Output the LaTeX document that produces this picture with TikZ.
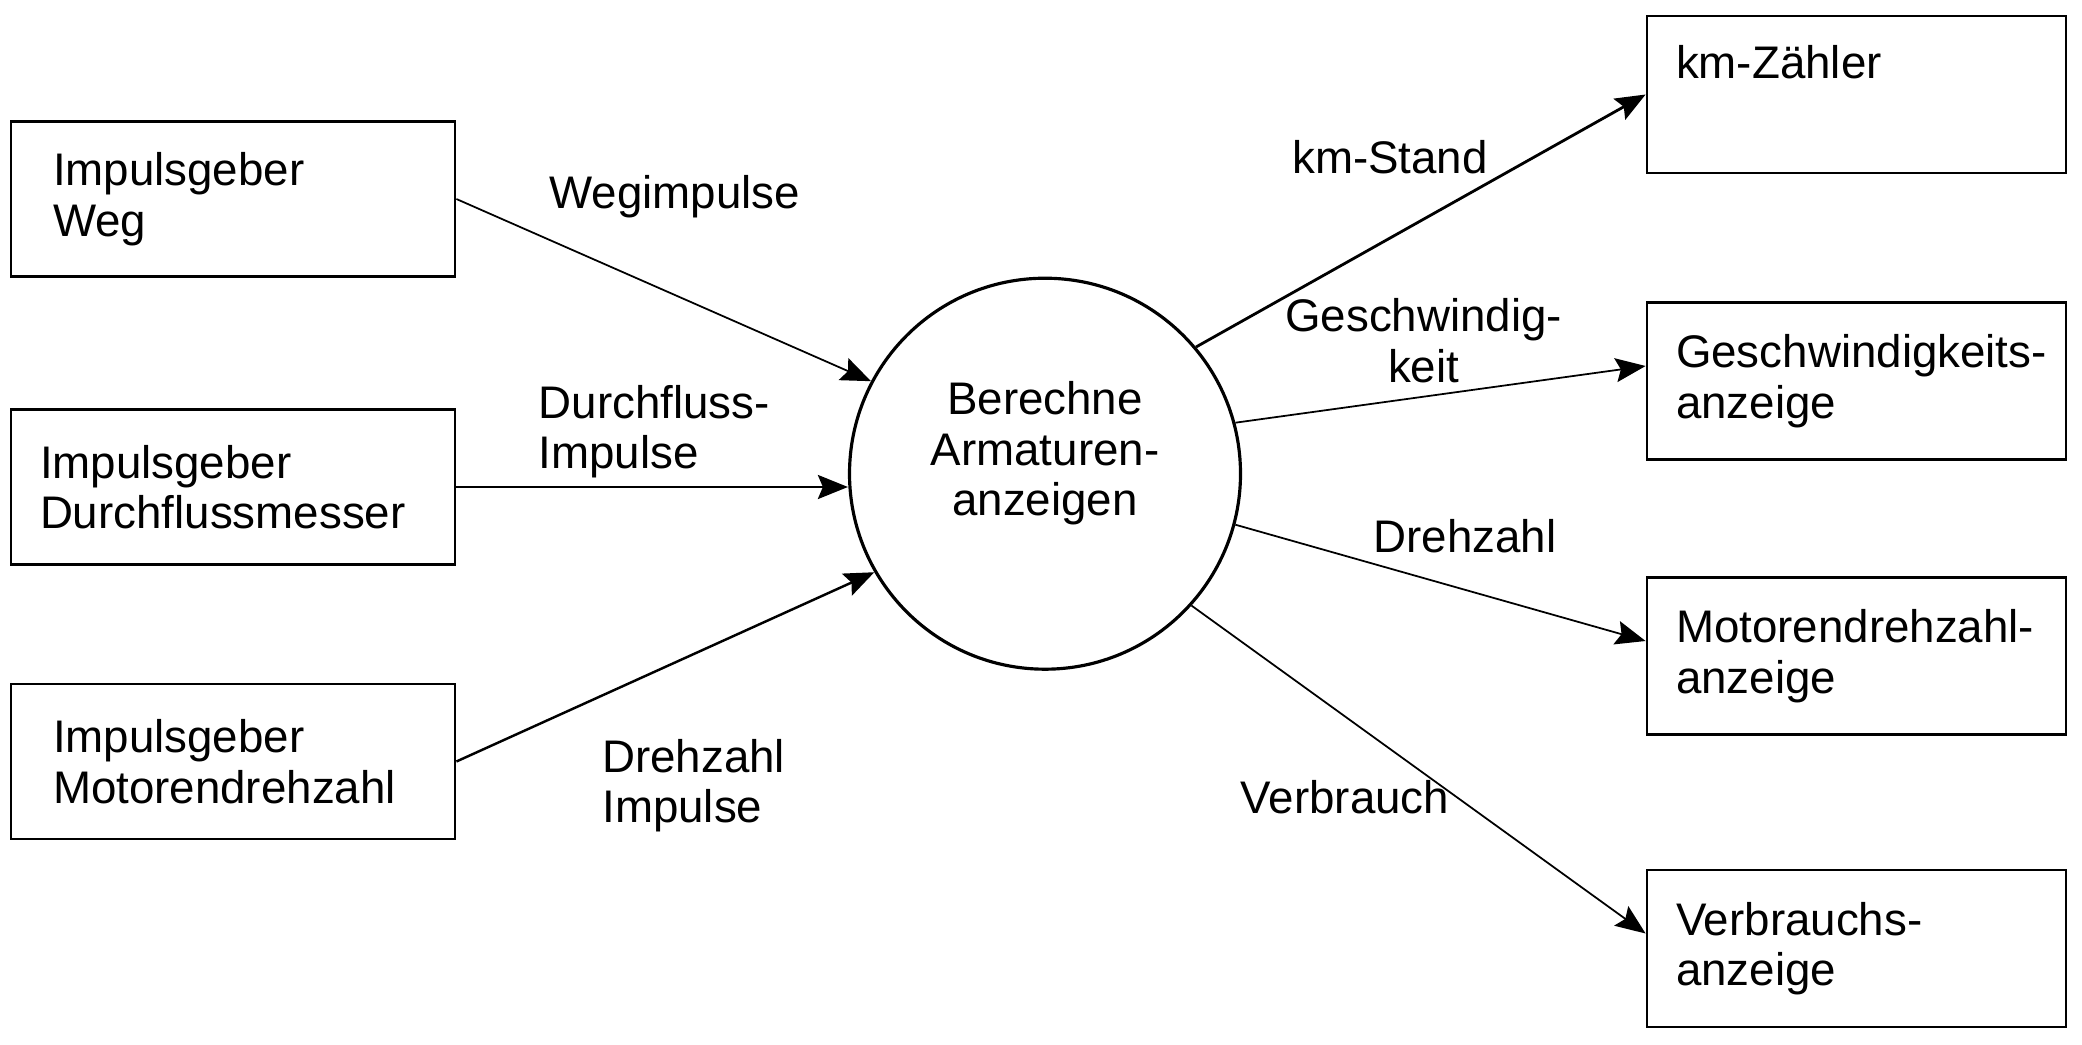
\documentclass[tikz,border=0pt]{standalone}
\usepackage{fontspec}
\setmainfont{Liberation Sans}
\usepackage{tikz}
\usetikzlibrary{arrows.meta,positioning,shapes.geometric,calc}

\tikzset{
  srcbox/.style={draw, line width=0.8pt, rectangle, minimum height=1.55cm, text width=3.6cm, inner xsep=0.42cm, align=left},
  dstbox/.style={draw, line width=0.8pt, rectangle, minimum height=1.57cm, text width=3.61cm, inner xsep=0.29cm, align=left},
  procnode/.style={draw, line width=0.9pt, circle, minimum size=3.91cm, inner sep=0pt, align=center},
  flowlbl/.style={inner sep=0pt},
  flow/.style={-{Stealth[length=3mm, width=2.4mm, inset=0.5mm]}, line width=0.5pt}
}

\begin{document}
\begin{tikzpicture}[every node/.style={font=\fontsize{13}{14.4}\selectfont}]
    \useasboundingbox (0,0) rectangle (20.82,10.44);

    % Quellen links
    \node[srcbox] (weg) at (2.33,8.45) {Impulsgeber\\Weg};
    \node[srcbox, inner xsep=0.29cm, text width=3.86cm] (durch) at (2.33,5.57) {Impulsgeber\\Durchflussmesser};
    \node[srcbox] (motor) at (2.33,2.825) {Impulsgeber\\Motorendrehzahl};

    % Prozess
    \node[procnode] (armatur) at (10.45,5.703) {Berechne\\Armaturen-\\anzeigen\\[-1.6mm]\strut};

    % Anzeigen rechts
    \node[dstbox] (kmz) at (18.565,9.495) {km-Zähler\\\strut};
    \node[dstbox] (gesch) at (18.565,6.63) {\mbox{Geschwindigkeits-}\\anzeige};
    \node[dstbox] (drehz) at (18.565,3.88) {\mbox{Motorendrehzahl-}\\anzeige};
    \node[dstbox] (verbr) at (18.565,0.955) {Verbrauchs-\\anzeige};

    % Datenfluesse
    \node[flowlbl] (lweg) at (6.746,8.475) {Wegimpulse};
    \node[flowlbl, anchor=west, align=left] (ldurch) at (5.38,6.125) {Durchfluss-\\Impulse};
    \node[flowlbl, anchor=west, align=left] (lmotor) at (6.016,2.585) {Drehzahl\\Impulse};
    \node[flowlbl] (lkm) at (13.90,8.873) {km-Stand};
    \node[flowlbl, align=center] (lgesch) at (14.236,7.034) {Geschwindig-\\keit};
    \node[flowlbl] (ldrehz) at (14.648,5.075) {Drehzahl};
    \node[flowlbl] (lverbr) at (13.45,2.47) {Verbrauch};

    \draw[flow] (weg.east) -- (armatur.152);
    \draw[flow, line width=0.8pt] (durch.east) -- (durch.east -| armatur.west);
    \draw[flow, line width=0.7pt] (motor.east) -- (armatur.210);
    \draw[flow, line width=0.8pt] (armatur.40) -- (kmz.west);
    \draw[flow] (armatur.15) -- ([yshift=1.5mm]gesch.west);
    \draw[flow] (armatur.-15) -- ([yshift=1.5mm]drehz.west);
    \draw[flow] (armatur.-42) -- ([yshift=1.5mm]verbr.west);
\end{tikzpicture}
\end{document}
